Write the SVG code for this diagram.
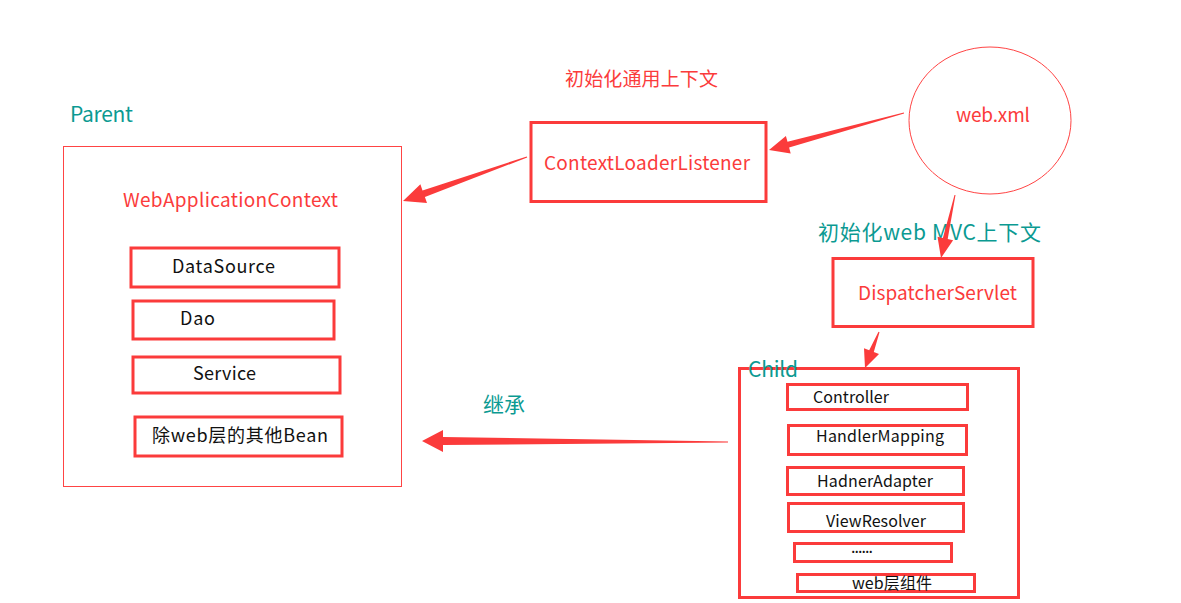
<svg xmlns="http://www.w3.org/2000/svg" width="1181" height="603" viewBox="0 0 1181 603">
<style>
text{font-family:"Microsoft YaHei","Noto Sans CJK SC","Noto Sans",sans-serif;}
.red{fill:#fb3b3b;}
.teal{fill:#0b9a92;}
.blk{fill:#111;}
.thin{fill:none;stroke:#f44;stroke-width:1;}
.box{fill:none;stroke:#fb3b3b;stroke-width:3;}
.arrow{fill:#fb3b3b;stroke:none;}
</style>
<rect width="1181" height="603" fill="#fff"/>
<g id="parent">
<text class="teal" x="70" y="122" font-size="21" textLength="63">Parent</text>
<rect class="thin" x="63.5" y="146.5" width="338" height="340"/>
<text class="red" x="123" y="207" font-size="19" textLength="215">WebApplicationContext</text>
</g>
<g id="datasource"><rect class="box" x="131" y="248" width="208" height="39"/><text class="blk" x="172" y="273" font-size="18" textLength="103">DataSource</text></g>
<g id="dao"><rect class="box" x="133" y="301" width="201" height="38"/><text class="blk" x="180" y="325" font-size="18" textLength="35">Dao</text></g>
<g id="service"><rect class="box" x="133" y="357" width="207" height="36"/><text class="blk" x="193" y="380" font-size="18" textLength="63">Service</text></g>
<g id="otherbean"><rect class="box" x="135" y="417" width="207" height="39"/><text class="blk" x="152" y="442" font-size="18" textLength="176">除web层的其他Bean</text></g>
<g id="contextloaderlistener">
<text class="red" x="565" y="86" font-size="19" textLength="153">初始化通用上下文</text>
<rect class="box" x="531" y="122.5" width="235" height="79"/>
<text class="red" x="544" y="170" font-size="19" textLength="206">ContextLoaderListener</text>
</g>
<g id="webxml">
<ellipse class="thin" cx="990" cy="120.5" rx="81" ry="73.5"/>
<text class="red" x="956" y="122" font-size="19" textLength="74">web.xml</text>
</g>
<g id="dispatcherservlet">
<text class="teal" x="818" y="240" font-size="21" textLength="223">初始化web MVC上下文</text>
<rect class="box" x="833" y="258.5" width="200" height="68"/>
<text class="red" x="858" y="300" font-size="19" textLength="159">DispatcherServlet</text>
</g>
<g id="child">
<rect class="box" x="739.5" y="368.5" width="279" height="229"/>
<text class="teal" x="748" y="377" font-size="21" textLength="50">Child</text>
</g>
<g id="controller"><rect class="box" x="787.5" y="384.5" width="180" height="25"/><text class="blk" x="813" y="403" font-size="16" textLength="76">Controller</text></g>
<g id="handlermapping"><rect class="box" x="788.5" y="425.5" width="178" height="29"/><text class="blk" x="816" y="442" font-size="16" textLength="128">HandlerMapping</text></g>
<g id="handleradapter"><rect class="box" x="787.5" y="467.5" width="176" height="27"/><text class="blk" x="817" y="487" font-size="16" textLength="116">HadnerAdapter</text></g>
<g id="viewresolver"><rect class="box" x="788.5" y="503.5" width="175" height="28"/><text class="blk" x="826" y="527" font-size="16" textLength="100">ViewResolver</text></g>
<g id="more"><rect class="box" x="794.5" y="543.5" width="157" height="18"/><text class="blk" x="851" y="553" font-size="16" textLength="22">......</text></g>
<g id="webcomponents"><rect class="box" x="797.5" y="574.5" width="177" height="17"/><text class="blk" x="852" y="589" font-size="16" textLength="80">web层组件</text></g>
<g id="connectors">
<polygon class="arrow" points="903.9,112.5 787.5,141.8 785.9,136.0 769,150 790.7,153.4 789.1,147.6 904.1,113.5"/>
<polygon class="arrow" points="526.8,156.5 422.5,190.4 420.4,184.2 403,201 427.0,203.1 424.9,196.9 527.2,157.5"/>
<polygon class="arrow" points="954.5,194.9 942.9,238.0 937.5,236.8 941,258 953.1,240.2 947.7,239.0 955.5,195.1"/>
<polygon class="arrow" points="878.5,331.8 869.2,350.3 864.0,348.3 865,368 879.0,354.1 873.8,352.1 879.5,332.2"/>
<polygon class="arrow" points="728,441.4 443,437 443,430 422,441 443,452 443,445 728,442.6"/>
<text class="teal" x="483" y="412" font-size="21" textLength="42">继承</text>
</g>
</svg>
